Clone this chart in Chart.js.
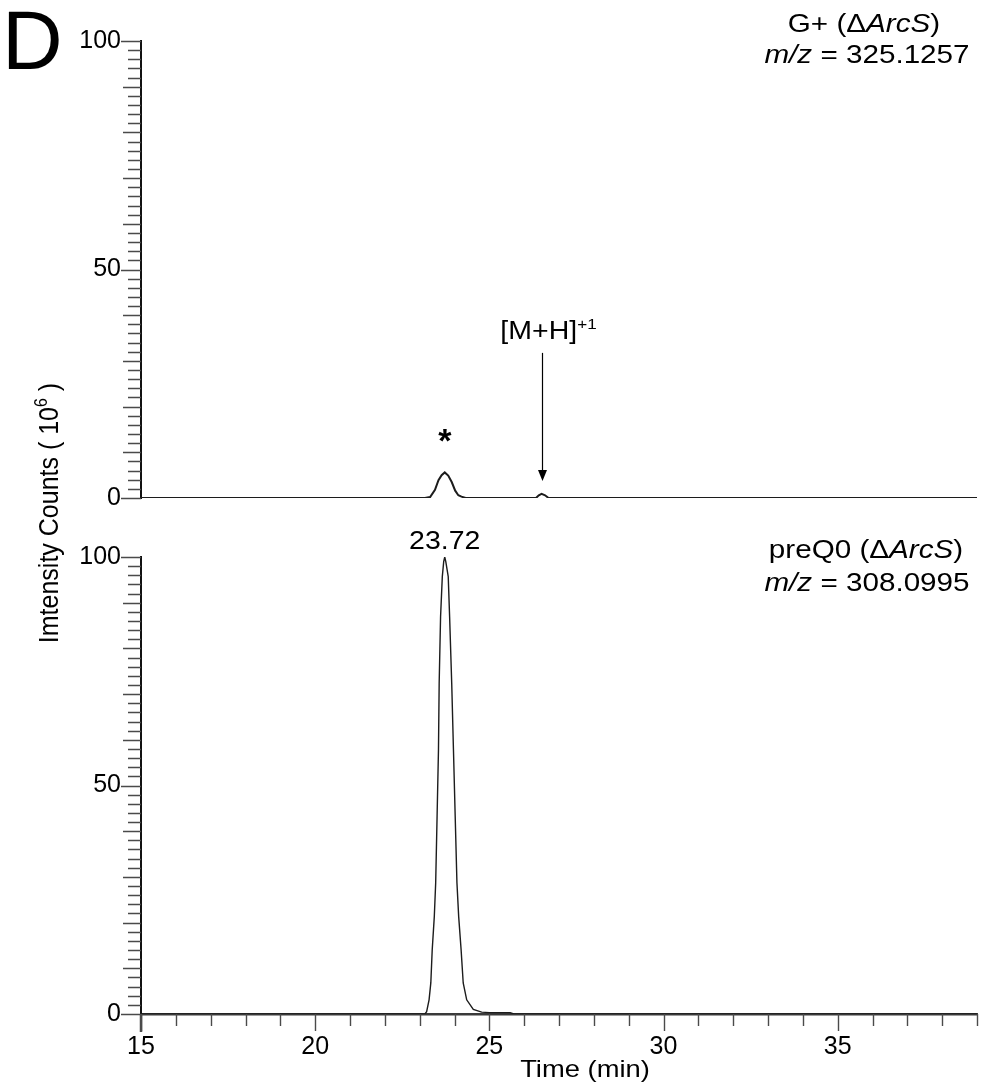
<!DOCTYPE html>
<html>
<head>
<meta charset="utf-8">
<script src="https://cdn.jsdelivr.net/npm/chart.js@4.4.1/dist/chart.umd.min.js"></script>
<style>
  html, body { margin: 0; padding: 0; background: #fff; }
  #wrap { position: relative; width: 996px; height: 1092px; }
  #wrap canvas { position: absolute; left: 0; top: 0; }
</style>
</head>
<body>
<div id="wrap">
  <canvas id="panelTop" width="996" height="1092"></canvas>
  <canvas id="panelBottom" width="996" height="1092"></canvas>
</div>
<script>
// Axis ranges and labelled ticks
const timeMin = 15;
const timeMax = 39;
const timeTicks = [15, 20, 25, 30, 35];
const intensityTicks = [0, 50, 100];

// G+ (ΔArcS), m/z = 325.1257 — extracted ion chromatogram
const gPlusTime      = [15.0, 23.15, 23.3, 23.44, 23.54, 23.63, 23.72, 23.82, 23.92, 24.02, 24.11, 24.2, 24.32, 26.34, 26.42, 26.5, 26.6, 26.7, 39.0];
const gPlusIntensity = [0,    0,     0.2,  1.8,   3.9,   5.0,   5.6,   4.9,   3.5,   1.6,   0.6,   0.3,  0,     0,     0.6,   0.9,  0.6,  0,    0];
const gPlusStarTime = 23.72;       // peak marked with *
const gPlusStarIntensity = 5.6;
const mhTime = 26.5;               // [M+H]+1 peak
const mhIntensity = 0.9;

// preQ0 (ΔArcS), m/z = 308.0995 — extracted ion chromatogram
const preQ0Time      = [15.0, 23.15, 23.2, 23.27, 23.32, 23.36, 23.42, 23.46, 23.5, 23.54, 23.56, 23.6, 23.65, 23.69, 23.72, 23.75, 23.82, 23.86, 23.92, 23.97, 24.02, 24.07, 24.12, 24.19, 24.25, 24.35, 24.54, 24.78, 25.0, 25.6, 25.7, 39.0];
const preQ0Intensity = [0,    0,     0.5,  3.1,   6.8,   14.0,  21.3,  28.7,  43.2, 57.8,  72.4,  86.9, 95.7,  99.0,  100,   99.0,  95.7,  86.9,  72.4,  57.8,  43.2,  28.7,  21.3,  14.0,  6.8,   3.1,   1.0,   0.4,   0.3,  0.3,  0,    0];
const preQ0ApexTime = 23.72;
const preQ0ApexIntensity = 100;

const FONT = '"Liberation Sans", Arial, Helvetica, sans-serif';
const STRETCH = 1.14;

// Draws a line made of styled runs, stretched horizontally
function drawRuns(ctx, runs, x, y, align, sx) {
  ctx.save();
  let w = 0;
  runs.forEach(r => { ctx.font = r.font; r.w = ctx.measureText(r.t).width; w += r.w; });
  ctx.translate(x, y);
  ctx.scale(sx, 1);
  let cx = align === 'center' ? -w / 2 : (align === 'right' ? -w : 0);
  ctx.textAlign = 'left';
  ctx.textBaseline = 'alphabetic';
  ctx.fillStyle = '#000';
  runs.forEach(r => {
    ctx.font = r.font;
    ctx.fillText(r.t, cx, r.dy || 0);
    cx += r.w;
  });
  ctx.restore();
}

// Minor/major tick marks on the axes
const tickMarks = {
  id: 'tickMarks',
  afterDraw(chart) {
    const ctx = chart.ctx;
    const xs = chart.scales.x, ys = chart.scales.y;
    const area = chart.chartArea;
    ctx.save();
    ctx.strokeStyle = '#4a4a4a';
    ctx.lineWidth = 1.4;
    ctx.beginPath();
    for (let v = 0; v <= 100; v += 2) {
      const len = v % 50 === 0 ? 20 : (v % 10 === 0 ? 18 : 13);
      const py = Math.round(ys.getPixelForValue(v)) + 0.5;
      ctx.moveTo(area.left - len, py);
      ctx.lineTo(area.left, py);
    }
    ctx.stroke();
    if (xs.options.display) {
      ctx.beginPath();
      for (let v = timeMin; v <= timeMax; v += 1) {
        const len = v % 5 === 0 ? 17 : 12;
        const px = Math.round(xs.getPixelForValue(v)) + 0.5;
        ctx.moveTo(px, area.bottom);
        ctx.lineTo(px, area.bottom + len);
      }
      ctx.stroke();
      // heavier first major tick
      ctx.lineWidth = 2.5;
      ctx.beginPath();
      const p0 = xs.getPixelForValue(timeMin);
      ctx.moveTo(p0, area.bottom);
      ctx.lineTo(p0, area.bottom + 18);
      ctx.stroke();
    }
    ctx.restore();
  }
};

// Labels for the G+ panel
const topLabels = {
  id: 'topLabels',
  afterDraw(chart) {
    const ctx = chart.ctx;
    const xs = chart.scales.x, ys = chart.scales.y;
    // panel letter
    ctx.save();
    ctx.font = '84px ' + FONT;
    ctx.fillStyle = '#000';
    ctx.textBaseline = 'alphabetic';
    ctx.fillText('D', 2, 69);
    ctx.restore();

    drawRuns(ctx, [
      { t: 'G+ (', font: '26px ' + FONT },
      { t: '\u0394', font: '26px ' + FONT },
      { t: 'ArcS', font: 'italic 26px ' + FONT },
      { t: ')', font: '26px ' + FONT }
    ], 864, 32, 'center', STRETCH);
    drawRuns(ctx, [
      { t: 'm/z', font: 'italic 26px ' + FONT },
      { t: ' = 325.1257', font: '26px ' + FONT }
    ], 867, 63, 'center', STRETCH);

    // asterisk over the first peak
    const sx = xs.getPixelForValue(gPlusStarTime);
    const sy = ys.getPixelForValue(gPlusStarIntensity);
    ctx.save();
    ctx.font = 'bold 34px ' + FONT;
    ctx.fillStyle = '#000';
    ctx.textAlign = 'center';
    ctx.textBaseline = 'alphabetic';
    ctx.fillText('*', sx, sy - 20);
    ctx.restore();

    // [M+H]+1 arrow
    const ax = Math.round(xs.getPixelForValue(mhTime)) + 0.5;
    const tipY = ys.getPixelForValue(mhIntensity) - 13;
    ctx.save();
    ctx.strokeStyle = '#000';
    ctx.fillStyle = '#000';
    ctx.lineWidth = 1.2;
    ctx.beginPath();
    ctx.moveTo(ax, tipY - 128);
    ctx.lineTo(ax, tipY - 8);
    ctx.stroke();
    ctx.beginPath();
    ctx.moveTo(ax, tipY);
    ctx.lineTo(ax - 4.5, tipY - 11);
    ctx.lineTo(ax + 4.5, tipY - 11);
    ctx.closePath();
    ctx.fill();
    ctx.restore();
    drawRuns(ctx, [
      { t: '[M+H]', font: '25px ' + FONT },
      { t: '+1', font: '15px ' + FONT, dy: -10 }
    ], ax + 6, tipY - 142, 'center', STRETCH);
  }
};

// Labels for the preQ0 panel and shared axis titles
const bottomLabels = {
  id: 'bottomLabels',
  afterDraw(chart) {
    const ctx = chart.ctx;
    const xs = chart.scales.x, ys = chart.scales.y;

    drawRuns(ctx, [
      { t: 'preQ0 (', font: '26px ' + FONT },
      { t: '\u0394', font: '26px ' + FONT },
      { t: 'ArcS', font: 'italic 26px ' + FONT },
      { t: ')', font: '26px ' + FONT }
    ], 866, 558, 'center', STRETCH);
    drawRuns(ctx, [
      { t: 'm/z', font: 'italic 26px ' + FONT },
      { t: ' = 308.0995', font: '26px ' + FONT }
    ], 867, 591, 'center', STRETCH);

    // retention time of the apex
    const px = xs.getPixelForValue(preQ0ApexTime);
    const py = ys.getPixelForValue(preQ0ApexIntensity);
    drawRuns(ctx, [{ t: preQ0ApexTime.toFixed(2), font: '25px ' + FONT }], px, py - 8, 'center', STRETCH);

    // x axis title
    drawRuns(ctx, [{ t: 'Time (min)', font: '24px ' + FONT }], 585, 1077, 'center', STRETCH);

    // y axis title spanning both panels
    ctx.save();
    ctx.translate(58, 513);
    ctx.rotate(-Math.PI / 2);
    ctx.scale(1, STRETCH);
    const runs = [
      { t: 'Imtensity Counts ( 10', font: '25px ' + FONT },
      { t: '6', font: '16px ' + FONT, dy: -10 },
      { t: ' )', font: '25px ' + FONT }
    ];
    let w = 0;
    runs.forEach(r => { ctx.font = r.font; r.w = ctx.measureText(r.t).width; w += r.w; });
    let cx = -w / 2;
    ctx.fillStyle = '#000';
    ctx.textBaseline = 'alphabetic';
    runs.forEach(r => { ctx.font = r.font; ctx.fillText(r.t, cx, r.dy || 0); cx += r.w; });
    ctx.restore();
  }
};

function panel(canvasId, times, values, opts) {
  return new Chart(document.getElementById(canvasId), {
    type: 'line',
    data: {
      datasets: [{
        data: times.map((t, i) => ({ x: t, y: values[i] })),
        borderColor: '#1c1c1c',
        borderWidth: opts.lineWidth,
        pointRadius: 0,
        tension: 0,
        fill: false
      }]
    },
    options: {
      responsive: false,
      animation: false,
      events: [],
      layout: { padding: { left: 0, right: 19, top: opts.padTop, bottom: opts.padBottom } },
      plugins: { legend: { display: false }, tooltip: { enabled: false } },
      scales: {
        x: {
          type: 'linear',
          min: timeMin,
          max: timeMax,
          display: opts.showX,
          grid: { display: false, drawTicks: false },
          border: { display: true, color: '#3a3a3a', width: 2.5 },
          ticks: { color: '#000', padding: 18, font: { family: FONT, size: 25 } },
          afterBuildTicks: s => { s.ticks = timeTicks.map(v => ({ value: v })); },
          afterFit: s => { s.height = opts.showX ? 78 : 0; }
        },
        y: {
          type: 'linear',
          min: 0,
          max: 100,
          grid: { display: false, drawTicks: false },
          border: { display: true, color: '#111', width: 2 },
          ticks: { color: '#000', padding: 20, font: { family: FONT, size: 25 } },
          afterBuildTicks: s => { s.ticks = intensityTicks.map(v => ({ value: v })); },
          afterFit: s => { s.width = 141; }
        }
      }
    },
    plugins: [tickMarks, opts.labels]
  });
}

panel('panelTop', gPlusTime, gPlusIntensity, {
  showX: false, padTop: 41, padBottom: 594, lineWidth: 2, labels: topLabels
});
panel('panelBottom', preQ0Time, preQ0Intensity, {
  showX: true, padTop: 557, padBottom: 0, lineWidth: 1.4, labels: bottomLabels
});
</script>
</body>
</html>
